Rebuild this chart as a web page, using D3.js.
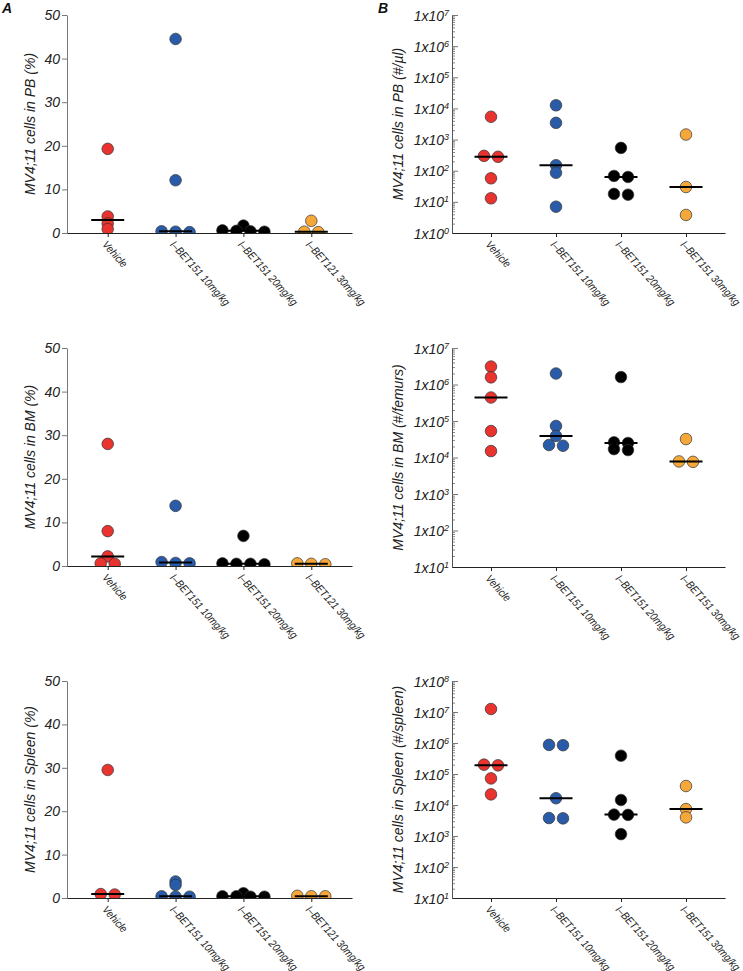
<!DOCTYPE html>
<html lang="en">
<head>
<meta charset="UTF-8">
<title>MV4;11 cells after I-BET151</title>
<script src="https://cdnjs.cloudflare.com/ajax/libs/d3/7.8.5/d3.min.js"></script>
<style>
  body { margin: 0; background: #fff; }
  svg { display: block; font-family: "Liberation Sans", Arial, sans-serif; font-style: italic; }
  .lbl { font-size: 14px; fill: #222; }
  .tick text { font-size: 14px; fill: #222; }
  .cat { font-size: 11px; fill: #222; }
</style>
</head>
<body>
<svg id="chart" width="743" height="971"></svg>
<script>
// groups
const catsPct = ["Vehicle", "I\u2013BET151 10mg/kg", "I\u2013BET151 20mg/kg", "I\u2013BET121 30mg/kg"];
const catsAbs = ["Vehicle", "I\u2013BET151 10mg/kg", "I\u2013BET151 20mg/kg", "I\u2013BET151 30mg/kg"];
const groupColors = ["#e8332f", "#2a5ba8", "#000000", "#f6a73a"];

// % of MV4;11 cells, one array per group
const pbPct = [[19.3, 3.8, 2.2, 0.9], [44.5, 12.1, 0.4, 0.3, 0.2], [1.7, 0.6, 0.5, 0.4, 0.3], [2.8, 0.3, 0.2]];
const bmPct = [[28.0, 8.0, 2.2, 0.6, 0.5], [13.8, 0.9, 0.7, 0.6], [6.9, 0.6, 0.5, 0.5, 0.4], [0.6, 0.5, 0.4]];
const spleenPct = [[29.5, 0.9, 0.8], [3.8, 3.0, 0.4, 0.3, 0.3], [1.1, 0.4, 0.4, 0.3, 0.3], [0.5, 0.4, 0.4]];

// absolute counts
const pbAbs = [[5400, 300, 280, 57, 13], [12600, 3450, 150, 86, 7], [540, 68, 63, 18, 17], [1450, 30, 3.8]];
const bmAbs = [[3.1e6, 1.57e6, 4.4e5, 5.3e4, 1.5e4], [2.0e6, 7.3e4, 3.9e4, 2.2e4, 2.1e4], [1.6e6, 2.6e4, 2.5e4, 1.7e4, 1.6e4], [3.2e4, 7.8e3, 7.6e3]];
const spleenAbs = [[1.25e7, 2.0e5, 1.9e5, 7.2e4, 2.2e4], [8.7e5, 8.5e5, 1.65e4, 3.8e3, 3.7e3], [3.9e5, 1.45e4, 4.9e3, 4.8e3, 1.15e3], [4.1e4, 7.4e3, 4.0e3]];

// ticks
const pctTicks = [0, 10, 20, 30, 40, 50];
const pbExp = [0, 7];
const bmExp = [1, 7];
const spleenExp = [1, 8];

const panels = [
  { data: pbPct, cats: catsPct, log: false, left: 67, right: 352, top: 15, bottom: 233, labelX: 30, title: "MV4;11 cells in PB (%)", letter: "A", letterX: 2 },
  { data: bmPct, cats: catsPct, log: false, left: 67, right: 352, top: 348, bottom: 566, labelX: 30, title: "MV4;11 cells in BM (%)" },
  { data: spleenPct, cats: catsPct, log: false, left: 67, right: 352, top: 681, bottom: 898, labelX: 30, title: "MV4;11 cells in Spleen (%)" },
  { data: pbAbs, cats: catsAbs, log: true, exp: pbExp, left: 452, right: 725, top: 15, bottom: 233, labelX: 398, title: "MV4;11 cells in PB (#/\u00b5l)", letter: "B", letterX: 378 },
  { data: bmAbs, cats: catsAbs, log: true, exp: bmExp, left: 452, right: 725, top: 348, bottom: 567, labelX: 398, title: "MV4;11 cells in BM (#/femurs)" },
  { data: spleenAbs, cats: catsAbs, log: true, exp: spleenExp, left: 452, right: 725, top: 681, bottom: 898, labelX: 398, title: "MV4;11 cells in Spleen (#/spleen)" }
];

const svg = d3.select("#chart");
const r = 5.8, spread = 14, rowTol = 2.5;

// points on (almost) the same row are spread sideways, others stay in the column
function swarm(vals, y, cx) {
  const pts = vals.map(v => ({ v, py: y(v) })).sort((a, b) => a.py - b.py);
  const rows = [];
  pts.forEach(p => {
    const last = rows[rows.length - 1];
    if (last && Math.abs(p.py - last[0].py) < rowTol) last.push(p);
    else rows.push([p]);
  });
  rows.forEach(row => row.forEach((p, i) => { p.px = cx + (i - (row.length - 1) / 2) * spread; }));
  return pts;
}

panels.forEach((P, pi) => {
  const g = svg.append("g");
  const x = d3.scalePoint().domain(P.cats).range([P.left, P.right]).padding(0.6);
  let y;
  if (P.log) {
    y = d3.scaleLog().domain([Math.pow(10, P.exp[0]), Math.pow(10, P.exp[1])]).range([P.bottom, P.top]);
  } else {
    y = d3.scaleLinear().domain([0, 50]).range([P.bottom, P.top]);
  }

  // clip so dots at zero sit on the axis
  const clipId = "clip" + pi;
  svg.append("clipPath").attr("id", clipId).append("rect")
    .attr("x", P.left).attr("y", P.top - 10).attr("width", P.right - P.left).attr("height", P.bottom - P.top + 10);

  // y axis
  if (P.log) {
    const majors = d3.range(P.exp[0], P.exp[1] + 1).map(e => Math.pow(10, e));
    const minors = [];
    d3.range(P.exp[0], P.exp[1]).forEach(e => { for (let m = 2; m < 10; m++) minors.push(m * Math.pow(10, e)); });
    g.append("g").attr("transform", `translate(${P.left},0)`)
      .call(d3.axisLeft(y).tickValues(minors).tickSize(-3).tickFormat(""))
      .call(a => a.select(".domain").remove())
      .selectAll("line").attr("stroke", "#888");
    const ya = g.append("g").attr("transform", `translate(${P.left},0)`)
      .call(d3.axisLeft(y).tickValues(majors).tickSizeInner(-6).tickSizeOuter(0).tickPadding(3).tickFormat(""));
    ya.attr("font-family", null).attr("font-size", null);
    ya.select(".domain").attr("stroke", "#555");
    ya.selectAll(".tick line").attr("stroke", "#777");
    ya.selectAll(".tick text").each(function (d) {
      const t = d3.select(this).attr("dy", "0.36em");
      t.append("tspan").text("1x10");
      t.append("tspan").attr("dy", "-0.55em").attr("font-size", "9px").text(Math.round(Math.log10(d)));
    });
  } else {
    const ya = g.append("g").attr("transform", `translate(${P.left},0)`)
      .call(d3.axisLeft(y).tickValues(pctTicks).tickSizeInner(5).tickSizeOuter(0).tickPadding(2));
    ya.attr("font-family", null).attr("font-size", null);
    ya.select(".domain").attr("stroke", "#777");
    ya.selectAll(".tick line").attr("stroke", "#777");
  }

  // dots
  const dots = g.append("g").attr("clip-path", `url(#${clipId})`);
  P.data.forEach((vals, gi) => {
    const cx = x(P.cats[gi]);
    dots.selectAll(null).data(swarm(vals, y, cx)).enter().append("circle")
      .attr("cx", d => d.px).attr("cy", d => d.py).attr("r", r)
      .attr("fill", groupColors[gi]).attr("stroke", "#333").attr("stroke-width", 0.7);
  });

  // medians
  P.data.forEach((vals, gi) => {
    const cx = x(P.cats[gi]);
    g.append("line")
      .attr("x1", cx - 16.5).attr("x2", cx + 16.5)
      .attr("y1", y(d3.median(vals))).attr("y2", y(d3.median(vals)))
      .attr("stroke", "#000").attr("stroke-width", 2);
  });

  // x axis
  const xa = g.append("g").attr("transform", `translate(0,${P.bottom})`)
    .call(d3.axisBottom(x).tickSizeInner(4).tickSizeOuter(0).tickFormat(""));
  xa.select(".domain").attr("stroke", "#222").attr("stroke-width", 1.1);
  xa.selectAll(".tick line").attr("stroke", "#222");

  // narrow rotated group labels
  g.selectAll(".cat").data(P.cats).enter().append("text")
    .attr("class", "cat")
    .attr("transform", d => `translate(${x(d) - 6},${P.bottom + 12}) rotate(48) scale(0.88,1)`)
    .text(d => d);

  // y title
  g.append("text").attr("class", "lbl")
    .attr("transform", `translate(${P.labelX},${(P.top + P.bottom) / 2}) rotate(-90)`)
    .attr("text-anchor", "middle").attr("dy", "0.35em")
    .text(P.title);

  if (P.letter) {
    g.append("text").attr("x", P.letterX).attr("y", 13)
      .attr("font-size", "14px").attr("font-weight", "bold").attr("fill", "#111")
      .text(P.letter);
  }
});
</script>
</body>
</html>
